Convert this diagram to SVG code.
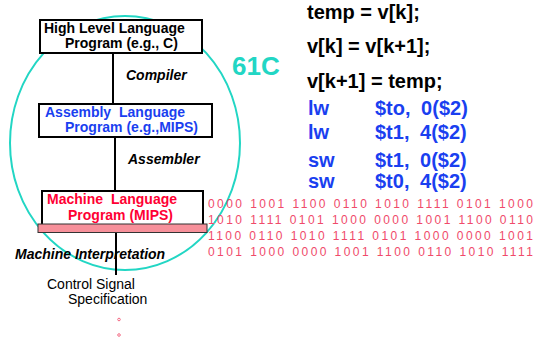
<svg xmlns="http://www.w3.org/2000/svg" width="538" height="339" viewBox="0 0 538 339">
<style>
.box{fill:#fff;stroke:#000;stroke-width:2}
.lbl{font-family:"Liberation Sans",Arial,sans-serif;font-size:14px;font-weight:bold}
.step{font-family:"Liberation Sans",Arial,sans-serif;font-size:14px;font-weight:bold;font-style:italic;fill:#000}
.code{font-family:"Liberation Sans",Arial,sans-serif;font-size:20px;font-weight:bold;fill:#000}
.asm{font-family:"Liberation Sans",Arial,sans-serif;font-size:20px;font-weight:bold;fill:#1a3ff0;word-spacing:5px}
.bin{font-family:"Liberation Sans",Arial,sans-serif;font-size:12px;fill:#f04a6a}
.line{stroke:#000;stroke-width:2;fill:none}
</style>
<rect width="538" height="339" fill="#fff"/>
<ellipse cx="125" cy="143" rx="115" ry="127" fill="none" stroke="#22d6c4" stroke-width="2"/>
<g id="connectors">
<line class="line" x1="113" y1="53" x2="113" y2="104"/>
<line class="line" x1="115" y1="137" x2="115" y2="191"/>
<line class="line" x1="116" y1="232" x2="116" y2="275"/>
</g>
<g id="hll">
<rect class="box" x="40" y="20" width="162" height="33"/>
<text class="lbl" x="44" y="33" fill="#000">High Level Language</text>
<text class="lbl" x="65" y="48" fill="#000">Program (e.g., C)</text>
</g>
<text class="step" x="126" y="80">Compiler</text>
<g id="asm">
<rect class="box" x="39" y="104" width="173" height="33"/>
<text class="lbl" x="45" y="117" fill="#1a3ff0" word-spacing="4">Assembly Language</text>
<text class="lbl" x="65" y="132" fill="#1a3ff0">Program (e.g.,MIPS)</text>
</g>
<text class="step" x="128" y="164">Assembler</text>
<g id="mach">
<rect class="box" x="42" y="191" width="161" height="36"/>
<text class="lbl" x="47" y="204" fill="#ff0033" word-spacing="4">Machine Language</text>
<text class="lbl" x="68" y="220" fill="#ff0033">Program (MIPS)</text>
<rect x="38" y="224" width="169" height="8.5" fill="#f7909a" stroke="#333" stroke-width="1"/>
</g>
<text class="step" x="15" y="259">Machine Interpretation</text>
<g id="ctrl">
<text x="47" y="289" font-family="Liberation Sans, Arial, sans-serif" font-size="14" fill="#000">Control Signal</text>
<text x="68" y="304" font-family="Liberation Sans, Arial, sans-serif" font-size="14" fill="#000">Specification</text>
<circle cx="119" cy="319.5" r="1.3" fill="none" stroke="#f04a6a" stroke-width="0.8"/>
<circle cx="119" cy="335" r="1.3" fill="none" stroke="#f04a6a" stroke-width="0.8"/>
</g>
<text x="232" y="75" font-family="Liberation Sans, Arial, sans-serif" font-size="26" font-weight="bold" fill="#22d6c4">61C</text>
<g id="hlcode">
<text class="code" x="307" y="19">temp = v[k];</text>
<text class="code" x="307" y="53">v[k] = v[k+1];</text>
<text class="code" x="307" y="88">v[k+1] = temp;</text>
</g>
<g id="asmcode">
<text class="asm" x="308" y="115">lw</text><text class="asm" x="375" y="115">$to, 0($2)</text>
<text class="asm" x="308" y="139">lw</text><text class="asm" x="375" y="139">$t1, 4($2)</text>
<text class="asm" x="308" y="167">sw</text><text class="asm" x="375" y="167">$t1, 0($2)</text>
<text class="asm" x="308" y="188">sw</text><text class="asm" x="375" y="188">$t0, 4($2)</text>
</g>
<g id="binary">
<text class="bin" x="208" y="208" textLength="325" lengthAdjust="spacing">0000 1001 1100 0110 1010 1111 0101 1000</text>
<text class="bin" x="208" y="224" textLength="325" lengthAdjust="spacing">1010 1111 0101 1000 0000 1001 1100 0110</text>
<text class="bin" x="208" y="240" textLength="325" lengthAdjust="spacing">1100 0110 1010 1111 0101 1000 0000 1001</text>
<text class="bin" x="208" y="256" textLength="325" lengthAdjust="spacing">0101 1000 0000 1001 1100 0110 1010 1111</text>
</g>
</svg>
